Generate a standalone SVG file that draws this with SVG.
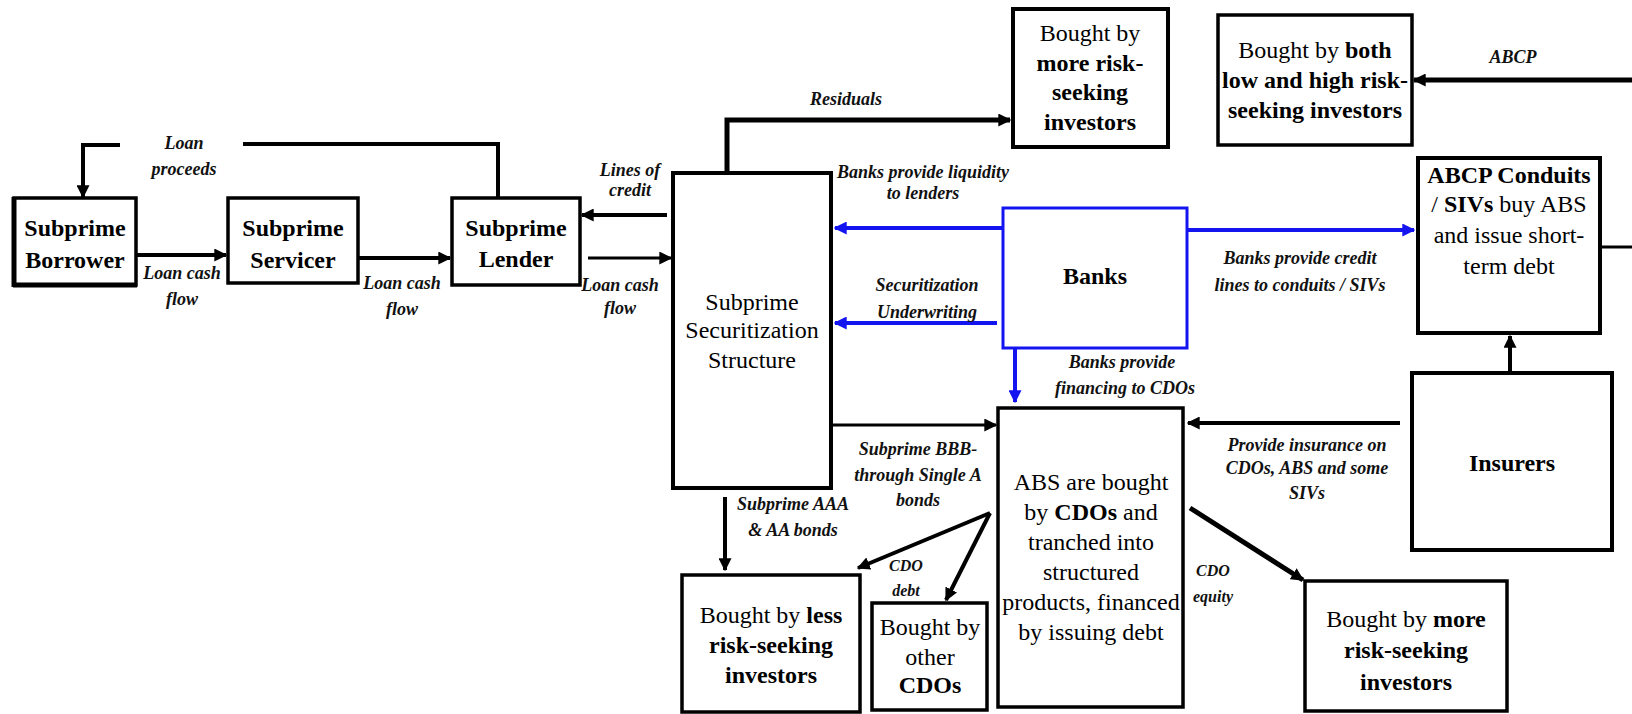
<svg xmlns="http://www.w3.org/2000/svg" width="1632" height="714" viewBox="0 0 1632 714">
<style>
  .box { fill: #fff; stroke: #000; stroke-width: 3.5; }
  .bbox { fill: #fff; stroke: #1414f0; stroke-width: 3; }
  .nt { font-family: "Liberation Serif", "Times New Roman", serif; font-size: 24px; fill: #000; text-anchor: middle; }
  .b { font-weight: bold; }
  .lb { font-family: "Liberation Serif", "Times New Roman", serif; font-size: 18px; font-style: italic; font-weight: bold; fill: #111; text-anchor: middle; }
  .sm { font-size: 16px; }
  .c { fill: none; stroke: #000; stroke-width: 4; }
  .cb { fill: none; stroke: #1414f0; stroke-width: 4; }
</style>
<defs>
  <marker id="ah" viewBox="0 0 10 10" refX="9" refY="5" markerWidth="13" markerHeight="13" markerUnits="userSpaceOnUse" orient="auto">
    <path d="M0,0 L10,5 L0,10 z" fill="#000"/>
  </marker>
  <marker id="ahb" viewBox="0 0 10 10" refX="9" refY="5" markerWidth="13" markerHeight="13" markerUnits="userSpaceOnUse" orient="auto">
    <path d="M0,0 L10,5 L0,10 z" fill="#1414f0"/>
  </marker>
</defs>
<rect width="1632" height="714" fill="#fff"/>

<g id="connectors">
  <path class="c" d="M120,145 H83 V197" marker-end="url(#ah)"/>
  <path class="c" d="M243,144 H498 V198"/>
  <path class="c" d="M137,255 H226" marker-end="url(#ah)"/>
  <path class="c" d="M358,258 H450" marker-end="url(#ah)"/>
  <path class="c" d="M667,215 H582" marker-end="url(#ah)"/>
  <path class="c" style="stroke-width:3" d="M588,258 H671" marker-end="url(#ah)"/>
  <path class="c" style="stroke-width:5" d="M727,173 V120 H1010" marker-end="url(#ah)"/>
  <path class="cb" d="M1003,228 H835" marker-end="url(#ahb)"/>
  <path class="cb" d="M997,323 H835" marker-end="url(#ahb)"/>
  <path class="cb" d="M1187,230 H1414" marker-end="url(#ahb)"/>
  <path class="cb" d="M1015,348 V402" marker-end="url(#ahb)"/>
  <path class="c" style="stroke-width:3" d="M833,425 H996" marker-end="url(#ah)"/>
  <path class="c" d="M725,497 V570" marker-end="url(#ah)"/>
  <path class="c" d="M990,513 L858,568" marker-end="url(#ah)"/>
  <path class="c" d="M990,513 L946,600" marker-end="url(#ah)"/>
  <path class="c" style="stroke-width:5" d="M1190,508 L1303,580" marker-end="url(#ah)"/>
  <path class="c" d="M1400,423 H1188" marker-end="url(#ah)"/>
  <path class="c" d="M1510,373 V336" marker-end="url(#ah)"/>
  <path class="c" style="stroke-width:3" d="M1600,247 H1632"/>
  <path class="c" style="stroke-width:5" d="M1632,80 H1414" marker-end="url(#ah)"/>

  <text class="lb"><tspan x="184" y="149">Loan</tspan><tspan x="184" y="175">proceeds</tspan></text>
  <text class="lb"><tspan x="182" y="279">Loan cash</tspan><tspan x="182" y="305">flow</tspan></text>
  <text class="lb"><tspan x="402" y="289">Loan cash</tspan><tspan x="402" y="315">flow</tspan></text>
  <text class="lb"><tspan x="630" y="176">Lines of</tspan><tspan x="630" y="196">credit</tspan></text>
  <text class="lb"><tspan x="620" y="291">Loan cash</tspan><tspan x="620" y="314">flow</tspan></text>
  <text class="lb" x="846" y="105">Residuals</text>
  <text class="lb"><tspan x="923" y="178">Banks provide liquidity</tspan><tspan x="923" y="199">to lenders</tspan></text>
  <text class="lb"><tspan x="927" y="291">Securitization</tspan><tspan x="927" y="318">Underwriting</tspan></text>
  <text class="lb"><tspan x="1300" y="264">Banks provide credit</tspan><tspan x="1300" y="291">lines to conduits / SIVs</tspan></text>
  <text class="lb"><tspan x="1122" y="368">Banks provide</tspan><tspan x="1125" y="394">financing to CDOs</tspan></text>
  <text class="lb"><tspan x="918" y="455">Subprime BBB-</tspan><tspan x="918" y="481">through Single A</tspan><tspan x="918" y="506">bonds</tspan></text>
  <text class="lb"><tspan x="793" y="510">Subprime AAA</tspan><tspan x="793" y="536">&amp; AA bonds</tspan></text>
  <text class="lb sm"><tspan x="906" y="571">CDO</tspan><tspan x="906" y="596">debt</tspan></text>
  <text class="lb sm"><tspan x="1213" y="576">CDO</tspan><tspan x="1213" y="602">equity</tspan></text>
  <text class="lb"><tspan x="1307" y="451">Provide  insurance on</tspan><tspan x="1307" y="474">CDOs, ABS and some</tspan><tspan x="1307" y="499">SIVs</tspan></text>
  <text class="lb" x="1513" y="63">ABCP</text>
</g>

<g id="borrower">
  <rect class="box" x="14" y="198" width="122" height="87"/>
  <path d="M14,197 V287 M13,285 H137" fill="none" stroke="#000" stroke-width="5"/>
  <text class="nt b"><tspan x="75" y="236">Subprime</tspan><tspan x="75" y="268">Borrower</tspan></text>
</g>
<g id="servicer">
  <rect class="box" x="228" y="198" width="130" height="85"/>
  <text class="nt b"><tspan x="293" y="236">Subprime</tspan><tspan x="293" y="268">Servicer</tspan></text>
</g>
<g id="lender">
  <rect class="box" x="452" y="198" width="128" height="87"/>
  <text class="nt b"><tspan x="516" y="236">Subprime</tspan><tspan x="516" y="267">Lender</tspan></text>
</g>
<g id="securitization">
  <rect class="box" style="stroke-width:4" x="673" y="173" width="158" height="315"/>
  <text class="nt"><tspan x="752" y="310">Subprime</tspan><tspan x="752" y="338">Securitization</tspan><tspan x="752" y="368">Structure</tspan></text>
</g>
<g id="top-investors">
  <rect class="box" style="stroke-width:4" x="1013" y="9" width="155" height="138"/>
  <text class="nt"><tspan x="1090" y="41">Bought by</tspan><tspan class="b" x="1090" y="71">more risk-</tspan><tspan class="b" x="1090" y="100">seeking</tspan><tspan class="b" x="1090" y="130">investors</tspan></text>
</g>
<g id="both-investors">
  <rect class="box" x="1218" y="15" width="194" height="130"/>
  <text class="nt"><tspan x="1315" y="58">Bought by <tspan class="b">both</tspan></tspan><tspan class="b" x="1315" y="88">low and high risk-</tspan><tspan class="b" x="1315" y="118">seeking investors</tspan></text>
</g>
<g id="abcp">
  <rect class="box" style="stroke-width:4" x="1418" y="158" width="182" height="175"/>
  <text class="nt"><tspan class="b" x="1509" y="183">ABCP Conduits</tspan><tspan x="1509" y="212">/ <tspan class="b">SIVs</tspan> buy ABS</tspan><tspan x="1509" y="243">and issue short-</tspan><tspan x="1509" y="274">term debt</tspan></text>
</g>
<g id="banks">
  <rect class="bbox" x="1003" y="208" width="184" height="140"/>
  <text class="nt b" x="1095" y="284">Banks</text>
</g>
<g id="cdos">
  <rect class="box" x="998" y="408" width="185" height="299"/>
  <text class="nt"><tspan x="1091" y="490">ABS are bought</tspan><tspan x="1091" y="520">by <tspan class="b">CDOs</tspan> and</tspan><tspan x="1091" y="550">tranched into</tspan><tspan x="1091" y="580">structured</tspan><tspan x="1091" y="610">products, financed</tspan><tspan x="1091" y="640">by issuing debt</tspan></text>
</g>
<g id="insurers">
  <rect class="box" style="stroke-width:4" x="1412" y="373" width="200" height="177"/>
  <text class="nt b" x="1512" y="471">Insurers</text>
</g>
<g id="less-investors">
  <rect class="box" x="682" y="575" width="178" height="137"/>
  <text class="nt"><tspan x="771" y="623">Bought by <tspan class="b">less</tspan></tspan><tspan class="b" x="771" y="653">risk-seeking</tspan><tspan class="b" x="771" y="683">investors</tspan></text>
</g>
<g id="other-cdos">
  <rect class="box" x="872" y="603" width="115" height="107"/>
  <text class="nt"><tspan x="930" y="635">Bought by</tspan><tspan x="930" y="665">other</tspan><tspan class="b" x="930" y="693">CDOs</tspan></text>
</g>
<g id="more-investors">
  <rect class="box" x="1305" y="581" width="202" height="130"/>
  <text class="nt"><tspan x="1406" y="627">Bought by <tspan class="b">more</tspan></tspan><tspan class="b" x="1406" y="658">risk-seeking</tspan><tspan class="b" x="1406" y="690">investors</tspan></text>
</g>
</svg>
